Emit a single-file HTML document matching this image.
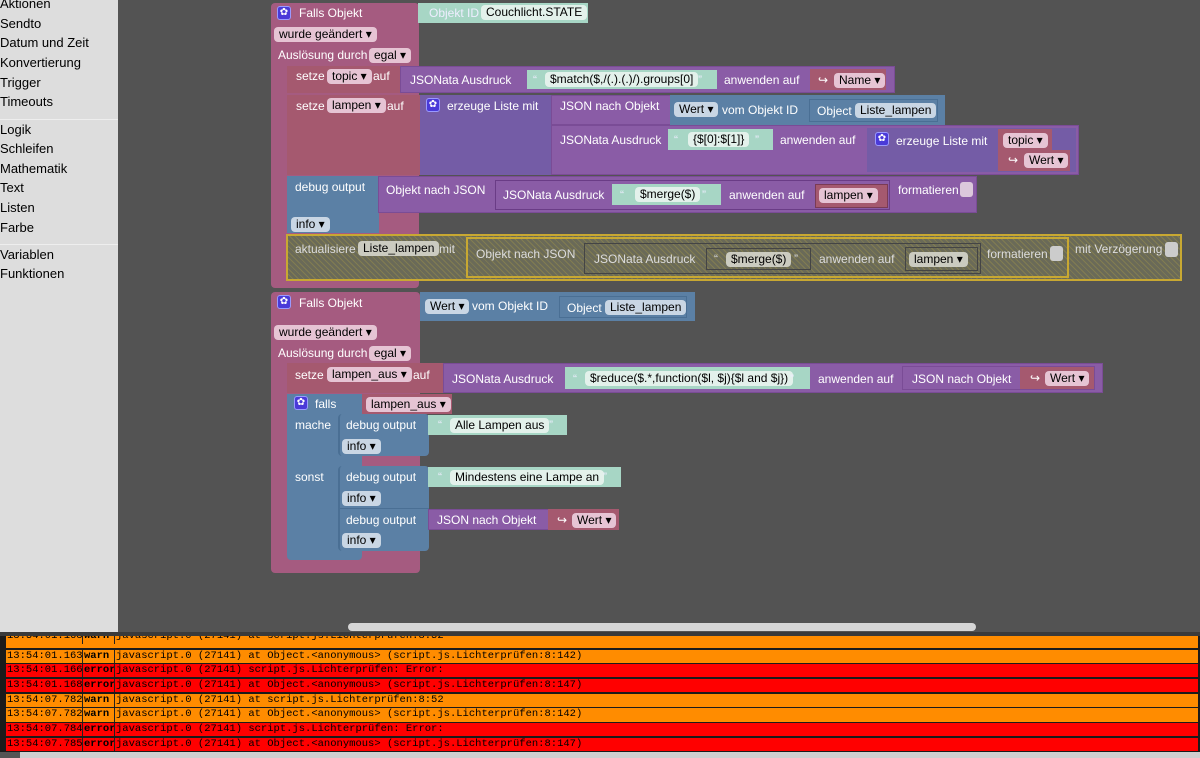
<!DOCTYPE html>
<html><head><meta charset="utf-8"><style>
*{margin:0;padding:0;box-sizing:border-box}
body{width:1200px;height:758px;overflow:hidden;background:#535353;font-family:"Liberation Sans",sans-serif;font-size:12px;color:#fff;position:relative}
.b{position:absolute}
.t{position:absolute;white-space:nowrap;line-height:14px}
.pk{background:#a55b80}
.sv{background:#a5596f}
.pu{background:#8a5ca6;border:1px solid #7a4c96}
.li{background:#745ca6}
.bl{background:#5b80a5}
.mi{background:#a7d6c5}
.f{position:absolute;border-radius:4px;color:#000;padding:0 5px;line-height:15px;height:15px;white-space:nowrap}
.fp{background:#e6c4d4}
.fb{background:#c9d6e4}
.fm{background:#e3f1eb}
.fd{background:#cbcbc0}
.dis{background:#6a6a58 repeating-linear-gradient(45deg,transparent 0 3px,rgba(200,180,60,.25) 3px 4px);border:2px solid #c8a832}
.gear{position:absolute;width:14px;height:14px;background:#4a3ad8;border:1px solid #9a9aff;border-radius:3px;color:#fff;font-size:10px;line-height:12px;text-align:center}
.side div{height:19.7px;line-height:19.7px;color:#000;font-size:13px}
.log{position:absolute;left:6px;width:1192px;height:13.3px;font-family:"Liberation Mono",monospace;font-size:10.5px;color:#000;line-height:13px;overflow:hidden}
.log span{position:absolute;top:0;height:14px;border-left:1px solid #222;padding-left:1px}
.cb{position:absolute;width:13px;height:15px;background:#ddd;border-radius:3px}
</style></head><body>
<div class="b side" style="left:0;top:0;width:118px;height:632px;background:#dddddd;padding-top:0">
<div style="margin-top:-6px">Aktionen</div><div>Sendto</div><div>Datum und Zeit</div><div>Konvertierung</div><div>Trigger</div><div>Timeouts</div>
<div style="border-top:1px solid #eee;margin-top:7px">Logik</div><div>Schleifen</div><div>Mathematik</div><div>Text</div><div>Listen</div><div>Farbe</div>
<div style="border-top:1px solid #eee;margin-top:7px">Variablen</div><div>Funktionen</div>
</div>

<!-- Block 1 -->
<div class="b pk" style="left:271px;top:3px;width:148px;height:285px;border-radius:4px"></div>
<div class="gear" style="left:277px;top:6px">✿</div>
<div class="t" style="left:299px;top:6px">Falls Objekt</div>
<div class="b mi" style="left:418px;top:3px;width:170px;height:20px"></div>
<div class="t" style="left:429px;top:6px;color:#eef">Objekt ID</div>
<div class="f fm" style="left:481px;top:5px">Couchlicht.STATE</div>
<div class="f fp" style="left:274px;top:27px">wurde geändert ▾</div>
<div class="t" style="left:278px;top:48px">Auslösung durch</div>
<div class="f fp" style="left:369px;top:48px">egal ▾</div>

<div class="b sv" style="left:287px;top:66px;width:113px;height:27px"></div>
<div class="t" style="left:296px;top:69px">setze</div>
<div class="f fp" style="left:327px;top:69px">topic ▾</div>
<div class="t" style="left:373px;top:69px">auf</div>
<div class="b pu" style="left:400px;top:66px;width:495px;height:27px"></div>
<div class="t" style="left:410px;top:73px">JSONata Ausdruck</div>
<div class="b mi" style="left:527px;top:70px;width:190px;height:19px"></div>
<div class="t" style="left:533px;top:73px;color:#eef">“</div>
<div class="f fm" style="left:545px;top:72px">$match($,/(.).(.)/).groups[0]</div>
<div class="t" style="left:698px;top:73px;color:#eef">”</div>
<div class="t" style="left:724px;top:73px">anwenden auf</div>
<div class="b sv" style="left:810px;top:69px;width:76px;height:21px"></div>
<div class="t" style="left:818px;top:73px">↪</div>
<div class="f fp" style="left:834px;top:73px">Name ▾</div>

<div class="b sv" style="left:287px;top:95px;width:133px;height:80px"></div>
<div class="t" style="left:296px;top:99px">setze</div>
<div class="f fp" style="left:327px;top:98px">lampen ▾</div>
<div class="t" style="left:387px;top:99px">auf</div>
<div class="b li" style="left:420px;top:95px;width:131px;height:80px"></div>
<div class="gear" style="left:426px;top:98px">✿</div>
<div class="t" style="left:447px;top:99px">erzeuge Liste mit</div>
<div class="b pu" style="left:551px;top:95px;width:120px;height:30px"></div>
<div class="t" style="left:560px;top:99px">JSON nach Objekt</div>
<div class="b bl" style="left:670px;top:95px;width:275px;height:30px"></div>
<div class="f fb" style="left:674px;top:102px">Wert ▾</div>
<div class="t" style="left:722px;top:103px">vom Objekt ID</div>
<div class="b bl" style="left:809px;top:99px;width:129px;height:23px;border:1px solid #4a6f94"></div>
<div class="t" style="left:817px;top:104px">Object</div>
<div class="f fb" style="left:855px;top:103px">Liste_lampen</div>
<div class="b pu" style="left:551px;top:125px;width:528px;height:50px"></div>
<div class="t" style="left:560px;top:133px">JSONata Ausdruck</div>
<div class="b mi" style="left:668px;top:129px;width:105px;height:21px"></div>
<div class="t" style="left:674px;top:133px;color:#eef">“</div>
<div class="f fm" style="left:688px;top:132px">{$[0]:$[1]}</div>
<div class="t" style="left:755px;top:133px;color:#eef">”</div>
<div class="t" style="left:780px;top:133px">anwenden auf</div>
<div class="b li" style="left:867px;top:128px;width:209px;height:44px"></div>
<div class="gear" style="left:875px;top:132px">✿</div>
<div class="t" style="left:896px;top:134px">erzeuge Liste mit</div>
<div class="b sv" style="left:998px;top:129px;width:54px;height:21px"></div>
<div class="f fp" style="left:1003px;top:133px">topic ▾</div>
<div class="b sv" style="left:998px;top:150px;width:72px;height:21px"></div>
<div class="t" style="left:1008px;top:153px">↪</div>
<div class="f fp" style="left:1024px;top:153px">Wert ▾</div>

<div class="b bl" style="left:287px;top:176px;width:92px;height:57px"></div>
<div class="t" style="left:295px;top:180px">debug output</div>
<div class="f fb" style="left:291px;top:217px">info ▾</div>
<div class="b pu" style="left:378px;top:176px;width:599px;height:37px"></div>
<div class="t" style="left:386px;top:183px">Objekt nach JSON</div>
<div class="b pu" style="left:495px;top:180px;width:395px;height:30px;border-color:#6a3c86"></div>
<div class="t" style="left:503px;top:188px">JSONata Ausdruck</div>
<div class="b mi" style="left:612px;top:184px;width:109px;height:21px"></div>
<div class="t" style="left:620px;top:188px;color:#eef">“</div>
<div class="f fm" style="left:635px;top:187px">$merge($)</div>
<div class="t" style="left:702px;top:188px;color:#eef">”</div>
<div class="t" style="left:729px;top:188px">anwenden auf</div>
<div class="b sv" style="left:815px;top:184px;width:73px;height:24px;border:1px solid #7a3b55"></div>
<div class="f fp" style="left:819px;top:188px">lampen ▾</div>
<div class="t" style="left:898px;top:183px">formatieren</div>
<div class="cb" style="left:960px;top:182px;background:#dcc8dc"></div>

<div class="b dis" style="left:286px;top:234px;width:896px;height:47px"></div>
<div class="t" style="left:295px;top:242px;color:#ddd">aktualisiere</div>
<div class="f fd" style="left:358px;top:241px">Liste_lampen</div>
<div class="t" style="left:439px;top:242px;color:#ddd">mit</div>
<div class="b dis" style="left:466px;top:237px;width:603px;height:41px"></div>
<div class="t" style="left:476px;top:247px;color:#ddd">Objekt nach JSON</div>
<div class="b" style="left:584px;top:243px;width:397px;height:31px;border:1px solid #444"></div>
<div class="t" style="left:594px;top:252px;color:#ddd">JSONata Ausdruck</div>
<div class="b" style="left:706px;top:248px;width:105px;height:22px;border:1px solid #444"></div>
<div class="t" style="left:714px;top:252px;color:#ddd">“</div>
<div class="f fd" style="left:726px;top:252px">$merge($)</div>
<div class="t" style="left:794px;top:252px;color:#ddd">”</div>
<div class="t" style="left:819px;top:252px;color:#ddd">anwenden auf</div>
<div class="b" style="left:905px;top:247px;width:73px;height:24px;border:1px solid #444"></div>
<div class="f fd" style="left:909px;top:252px">lampen ▾</div>
<div class="t" style="left:987px;top:247px;color:#ddd">formatieren</div>
<div class="cb" style="left:1050px;top:246px;background:#ccc"></div>
<div class="t" style="left:1075px;top:242px;color:#ddd">mit Verzögerung</div>
<div class="cb" style="left:1165px;top:242px;background:#ccc"></div>

<!-- Block 2 -->
<div class="b pk" style="left:271px;top:292px;width:149px;height:281px;border-radius:4px"></div>
<div class="gear" style="left:277px;top:295px">✿</div>
<div class="t" style="left:299px;top:296px">Falls Objekt</div>
<div class="b bl" style="left:420px;top:292px;width:275px;height:29px"></div>
<div class="f fb" style="left:425px;top:299px">Wert ▾</div>
<div class="t" style="left:472px;top:299px">vom Objekt ID</div>
<div class="b bl" style="left:559px;top:296px;width:128px;height:22px;border:1px solid #4a6f94"></div>
<div class="t" style="left:567px;top:301px">Object</div>
<div class="f fb" style="left:605px;top:300px">Liste_lampen</div>
<div class="f fp" style="left:274px;top:325px">wurde geändert ▾</div>
<div class="t" style="left:278px;top:346px">Auslösung durch</div>
<div class="f fp" style="left:369px;top:346px">egal ▾</div>

<div class="b sv" style="left:287px;top:363px;width:156px;height:30px"></div>
<div class="t" style="left:295px;top:368px">setze</div>
<div class="f fp" style="left:327px;top:367px">lampen_aus ▾</div>
<div class="t" style="left:413px;top:368px">auf</div>
<div class="b pu" style="left:443px;top:363px;width:660px;height:30px"></div>
<div class="t" style="left:452px;top:372px">JSONata Ausdruck</div>
<div class="b mi" style="left:565px;top:367px;width:245px;height:22px"></div>
<div class="t" style="left:573px;top:372px;color:#eef">“</div>
<div class="f fm" style="left:585px;top:371px">$reduce($.*,function($l, $j){$l and $j})</div>
<div class="t" style="left:790px;top:372px;color:#eef">”</div>
<div class="t" style="left:818px;top:372px">anwenden auf</div>
<div class="b pu" style="left:902px;top:366px;width:193px;height:24px"></div>
<div class="t" style="left:912px;top:372px">JSON nach Objekt</div>
<div class="b sv" style="left:1020px;top:367px;width:74px;height:22px"></div>
<div class="t" style="left:1030px;top:371px">↪</div>
<div class="f fp" style="left:1045px;top:371px">Wert ▾</div>

<div class="b bl" style="left:287px;top:394px;width:75px;height:166px;border-radius:0 0 4px 4px"></div>
<div class="gear" style="left:294px;top:396px">✿</div>
<div class="t" style="left:315px;top:397px">falls</div>
<div class="b sv" style="left:362px;top:394px;width:90px;height:20px"></div>
<div class="f fp" style="left:366px;top:397px">lampen_aus ▾</div>
<div class="t" style="left:295px;top:418px">mache</div>
<div class="t" style="left:295px;top:470px">sonst</div>
<div class="b bl" style="left:338px;top:414px;width:91px;height:42px;border-left:2px solid #4a6f94;border-radius:4px"></div>
<div class="t" style="left:346px;top:418px">debug output</div>
<div class="f fb" style="left:342px;top:439px">info ▾</div>
<div class="b mi" style="left:428px;top:415px;width:139px;height:20px"></div>
<div class="t" style="left:438px;top:418px;color:#eef">“</div>
<div class="f fm" style="left:450px;top:418px">Alle Lampen aus</div>
<div class="t" style="left:549px;top:418px;color:#eef">”</div>
<div class="b bl" style="left:338px;top:466px;width:91px;height:85px;border-left:2px solid #4a6f94;border-radius:4px"></div>
<div class="t" style="left:346px;top:470px">debug output</div>
<div class="f fb" style="left:342px;top:491px">info ▾</div>
<div class="b mi" style="left:428px;top:467px;width:193px;height:20px"></div>
<div class="t" style="left:438px;top:470px;color:#eef">“</div>
<div class="f fm" style="left:450px;top:470px">Mindestens eine Lampe an</div>
<div class="t" style="left:603px;top:470px;color:#eef">”</div>
<div class="b" style="left:340px;top:508px;width:89px;height:1px;background:#4a6f94"></div>
<div class="t" style="left:346px;top:513px">debug output</div>
<div class="f fb" style="left:342px;top:533px">info ▾</div>
<div class="b pu" style="left:428px;top:509px;width:121px;height:21px"></div>
<div class="t" style="left:437px;top:513px">JSON nach Objekt</div>
<div class="b sv" style="left:548px;top:509px;width:71px;height:21px"></div>
<div class="t" style="left:557px;top:513px">↪</div>
<div class="f fp" style="left:572px;top:513px">Wert ▾</div>

<!-- scrollbar -->
<div class="b" style="left:348px;top:623px;width:628px;height:8px;background:#d6d6d6;border-radius:4px"></div>

<!-- log -->
<div class="b" style="left:0;top:632px;width:1200px;height:126px;background:#1b1b1b"></div>
<div class="log" style="top:635px;background:#ff8c00"><span style="left:0;border:0;top:-5px">13:54:01.163</span><span style="left:76px;font-weight:bold;top:-5px">warn</span><span style="left:108px;top:-5px">javascript.0 (27141) at script.js.Lichterprüfen:8:52</span></div>
<div class="b" style="left:0;top:632px;width:1200px;height:4px;background:#3a3a3a"></div>
<div class="log" style="top:649.5px;background:#ff8c00"><span style="left:0;border:0">13:54:01.163</span><span style="left:76px;font-weight:bold">warn</span><span style="left:108px">javascript.0 (27141) at Object.&lt;anonymous&gt; (script.js.Lichterprüfen:8:142)</span></div>
<div class="log" style="top:664.2px;background:#ff0000"><span style="left:0;border:0">13:54:01.166</span><span style="left:76px;font-weight:bold">error</span><span style="left:108px">javascript.0 (27141) script.js.Lichterprüfen: Error:</span></div>
<div class="log" style="top:678.9px;background:#ff0000"><span style="left:0;border:0">13:54:01.168</span><span style="left:76px;font-weight:bold">error</span><span style="left:108px">javascript.0 (27141) at Object.&lt;anonymous&gt; (script.js.Lichterprüfen:8:147)</span></div>
<div class="log" style="top:693.6px;background:#ff8c00"><span style="left:0;border:0">13:54:07.782</span><span style="left:76px;font-weight:bold">warn</span><span style="left:108px">javascript.0 (27141) at script.js.Lichterprüfen:8:52</span></div>
<div class="log" style="top:708.3px;background:#ff8c00"><span style="left:0;border:0">13:54:07.782</span><span style="left:76px;font-weight:bold">warn</span><span style="left:108px">javascript.0 (27141) at Object.&lt;anonymous&gt; (script.js.Lichterprüfen:8:142)</span></div>
<div class="log" style="top:723px;background:#ff0000"><span style="left:0;border:0">13:54:07.784</span><span style="left:76px;font-weight:bold">error</span><span style="left:108px">javascript.0 (27141) script.js.Lichterprüfen: Error:</span></div>
<div class="log" style="top:737.7px;background:#ff0000"><span style="left:0;border:0">13:54:07.785</span><span style="left:76px;font-weight:bold">error</span><span style="left:108px">javascript.0 (27141) at Object.&lt;anonymous&gt; (script.js.Lichterprüfen:8:147)</span></div>
<div class="b" style="left:0;top:752px;width:1200px;height:6px;background:#cfcfcf"></div>
<div class="b" style="left:0;top:752px;width:20px;height:6px;background:#555"></div>
</body></html>
